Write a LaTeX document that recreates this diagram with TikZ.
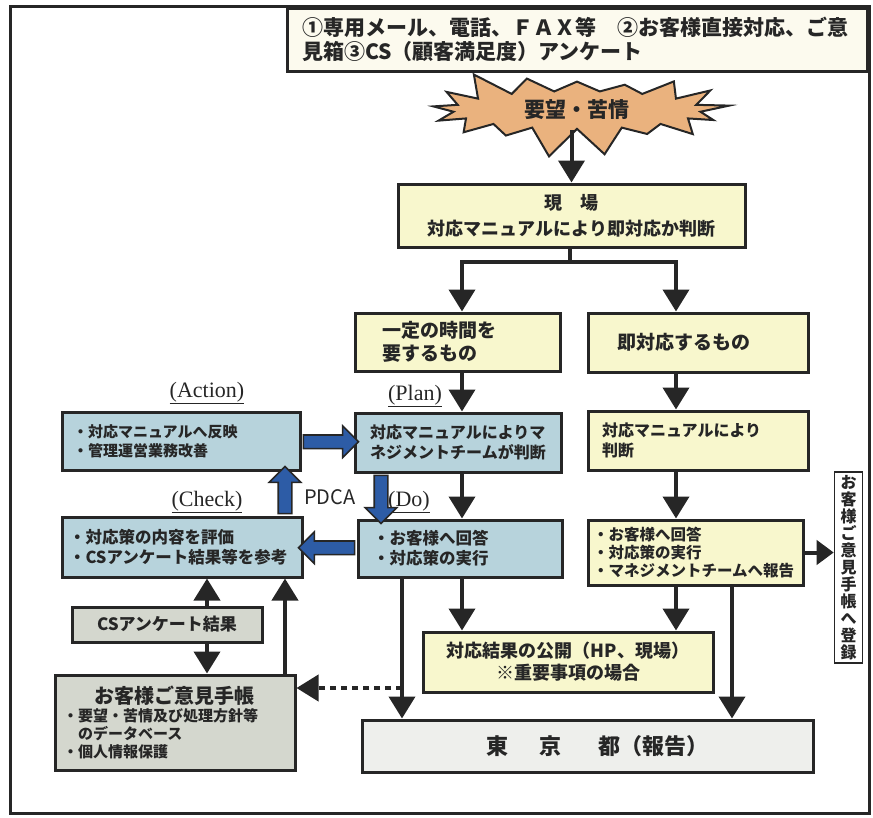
\documentclass[tikz,border=0pt]{standalone}
\usepackage{fontspec}
\setmainfont{Noto Sans CJK JP}
\newfontfamily\labelfont{Liberation Serif}
\usetikzlibrary{arrows.meta,shapes.symbols,shapes.arrows,calc}

\definecolor{linec}{HTML}{262626}
\definecolor{creamc}{HTML}{FCFAEE}
\definecolor{burstc}{HTML}{EAB27E}
\definecolor{yellowc}{HTML}{F8F7CD}
\definecolor{bluec}{HTML}{B7D3DC}
\definecolor{grayc}{HTML}{D4D7CE}
\definecolor{tokyoc}{HTML}{EEEFEC}
\definecolor{pdcac}{HTML}{2D5CA6}

\newcommand\setfs[2]{\fontsize{#1}{#2}\selectfont}

\tikzset{
	box/.style={draw=linec, line width=3pt, inner sep=0pt, text=linec},
	ybox/.style={box, fill=yellowc},
	bbox/.style={box, fill=bluec},
	gbox/.style={box, fill=grayc},
	flow/.style={draw=linec, line width=4pt, -{Triangle[width=26pt,length=22pt]}},
	dotflow/.style={flow, dash pattern=on 6pt off 5pt},
	pdca/.style={single arrow, draw=linec, line width=1.6pt, fill=pdcac, inner xsep=0pt, inner ysep=6pt,
		single arrow head extend=9pt, single arrow tip angle=90, minimum width=0pt},
	phase/.style={text=linec, font=\labelfont\setfs{22}{24}},
}

\begin{document}
\begin{tikzpicture}[x=1pt, y=-1pt]
	\useasboundingbox (0,0) rectangle (873,817);
	% frame and title:
	\draw[draw=linec, line width=3pt] (10,6) rectangle (869,813);
	\node[starburst, starburst points=17, starburst point height=30pt, random starburst=3,
		minimum width=308pt, minimum height=92pt, fill=burstc, draw=linec, line width=2pt,
		text=linec, font=\bfseries\setfs{21}{24}] (burst) at (577,110) {要望・苦情};
	\node[box, fill=creamc, minimum width=580pt, minimum height=63pt, text width=550pt, align=left,
		font=\bfseries\setfs{21}{24}] (topbox) at (577,39.5)
		{①専用メール、電話、ＦＡＸ等　②お客様直接対応、ご意\\見箱③CS（顧客満足度）アンケート};
	% main column:
	\node[ybox, minimum width=347pt, minimum height=63pt, align=center, font=\bfseries\setfs{18}{26}]
		(genba) at (571.5,215.5) {現　場\\対応マニュアルにより即対応か判断};
	\node[ybox, minimum width=205pt, minimum height=58pt, text width=150pt, align=left,
		font=\bfseries\setfs{19}{23}] (ittei) at (457.5,342) {一定の時間を\\要するもの};
	\node[ybox, minimum width=220pt, minimum height=59pt, text width=162pt, align=left,
		font=\bfseries\setfs{19}{23}] (sokutai) at (698,342.5) {即対応するもの};
	\node[bbox, minimum width=206pt, minimum height=59pt, align=left, font=\bfseries\setfs{16}{20}]
		(plan) at (458,442.5) {対応マニュアルによりマ\\ネジメントチームが判断};
	\node[ybox, minimum width=220pt, minimum height=59pt, text width=192pt, align=left,
		font=\bfseries\setfs{16}{20}] (rman) at (698,440.5) {対応マニュアルにより\\判断};
	\node[bbox, minimum width=238pt, minimum height=58pt, text width=216pt, align=left,
		font=\bfseries\setfs{15}{19}] (act) at (181,441) {・対応マニュアルへ反映\\・管理運営業務改善};
	\node[bbox, minimum width=240pt, minimum height=60pt, text width=226pt, align=left,
		font=\bfseries\setfs{16.5}{20}] (chk) at (182,547) {・対応策の内容を評価\\・CSアンケート結果等を参考};
	\node[bbox, minimum width=204pt, minimum height=57pt, text width=174pt, align=left,
		font=\bfseries\setfs{16.5}{20}] (do) at (460,548.5) {・お客様へ回答\\・対応策の実行};
	\node[ybox, minimum width=215pt, minimum height=65pt, text width=205pt, align=left,
		font=\bfseries\setfs{15.5}{18}] (rdo) at (695.5,552.5)
		{・お客様へ回答\\・対応策の実行\\・マネジメントチームへ報告};
	\node[draw=linec, line width=1.6pt, fill=white, inner sep=0pt, minimum width=28pt, minimum height=191pt,
		align=center, text=linec, font=\bfseries\setfs{16}{17}] (vert) at (848.5,567.5)
		{お\\客\\様\\ご\\意\\見\\手\\帳\\へ\\登\\録};
	\node[ybox, minimum width=290pt, minimum height=60pt, align=center, font=\bfseries\setfs{18}{22}]
		(pub) at (568,662) {対応結果の公開（HP、現場）\\※重要事項の場合};
	\node[gbox, minimum width=190pt, minimum height=35pt, font=\bfseries\setfs{17}{20}]
		(cs) at (167,624.5) {CSアンケート結果};
	\node[gbox, minimum width=240pt, minimum height=95pt, text width=224pt, align=left,
		font=\bfseries\setfs{15}{18}] (note) at (175,722.5)
		{\makebox[224pt][c]{\setfs{20}{22}お客様ご意見手帳}\\・要望・苦情及び処理方針等\\　のデータベース\\・個人情報保護};
	\node[box, fill=tokyoc, minimum width=451pt, minimum height=52pt, font=\bfseries\setfs{22}{24}]
		(tokyo) at (587.5,746) {\hspace*{20pt}東\hspace{1.4em}京\hspace{1.7em}都（報告）};
	% phase labels:
	\node[phase] (lact) at (207,393) {\underline{(Action)}};
	\node[phase] (lchk) at (207,502) {\underline{(Check)}};
	\node[phase] (lplan) at (415,396) {\underline{(Plan)}};
	\node[phase] (ldo) at (409,502) {\underline{(Do)}};
	\node[text=linec, font=\setfs{20}{22}] (lpdca) at (330,497) {PDCA};
	% columns for the connectors:
	\coordinate (split) at (570,262);
	\coordinate (colL) at (462,0);
	\coordinate (colR) at (676,0);
	\coordinate (colD) at (402,0);
	\coordinate (colT) at (732,0);
	\coordinate (colC) at (207,0);
	\coordinate (colN) at (285,0);
	\coordinate (colB) at (381,0);
	\coordinate (dotS) at (402,688);
	% connectors:
	\draw[flow] (genba.north |- burst.south) -- (genba.north);
	\draw[draw=linec, line width=4pt] (genba.south -| split) -- (split);
	\draw[flow] (split) -| (colL |- ittei.north);
	\draw[flow] (split) -| (colR |- sokutai.north);
	\draw[flow] (colL |- ittei.south) -- (colL |- plan.north);
	\draw[flow] (colL |- plan.south) -- (colL |- do.north);
	\draw[flow] (colL |- do.south) -- (colL |- pub.north);
	\draw[flow] (colD |- do.south) -- (colD |- tokyo.north);
	\draw[flow] (colR |- sokutai.south) -- (colR |- rman.north);
	\draw[flow] (colR |- rman.south) -- (colR |- rdo.north);
	\draw[flow] (colR |- rdo.south) -- (colR |- pub.north);
	\draw[flow] (colT |- rdo.south) -- (colT |- tokyo.north);
	\draw[flow, -{Triangle[width=24pt,length=17pt]}] (rdo.east) -- (vert.west |- rdo.east);
	\draw[flow] (colC |- cs.north) -- (colC |- chk.south);
	\draw[flow] (colC |- cs.south) -- (colC |- note.north);
	\draw[flow] (colN |- note.north) -- (colN |- chk.south);
	\draw[dotflow] (dotS) -- (note.east |- dotS);
	% PDCA cycle:
	\node[pdca, minimum height=55pt] (pAP) at ($(act.east)!0.5!(plan.west)$) {};
	\node[pdca, minimum height=48pt, rotate=-90] (pPD) at ($(colB |- plan.south)!0.5!(colB |- do.north)$) {};
	\node[pdca, minimum height=56pt, rotate=180] (pDC) at ($(chk.east)!0.5!(do.west)$) {};
	\node[pdca, minimum height=47pt, rotate=90] (pCA) at ($(colN |- chk.north)!0.5!(colN |- act.south)$) {};
\end{tikzpicture}
\end{document}
